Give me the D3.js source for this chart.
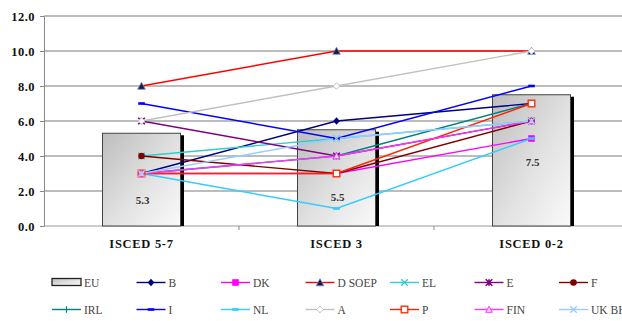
<!DOCTYPE html>
<html><head><meta charset="utf-8">
<script src="https://cdn.jsdelivr.net/npm/d3@7"></script>
<style>
html,body{margin:0;padding:0;background:#fff;}
svg{display:block;}
</style></head>
<body>
<svg id="chart" width="622" height="321"></svg>
<script>
const categories = ["ISCED 5-7", "ISCED 3", "ISCED 0-2"];
const euValues = [5.3, 5.5, 7.5];
const yTicks = [0, 2, 4, 6, 8, 10, 12];

const seriesNames = ["B", "DK", "D SOEP", "EL", "E", "F", "IRL", "I", "NL", "A", "P", "FIN", "UK BHPS"];
const valB     = [3, 6, 7];
const valDK    = [3, 3, 5];
const valDSOEP = [8, 10, 10];
const valEL    = [4, 5, 6];
const valE     = [6, 4, 6];
const valF     = [4, 3, 6];
const valIRL   = [3, 4, 7];
const valI     = [7, 5, 8];
const valNL    = [3, 1, 5];
const valA     = [6, 8, 10];
const valP     = [3, 3, 7];
const valFIN   = [3, 4, 6];
const valUK    = [3, 5, 6];

const seriesValues = [valB, valDK, valDSOEP, valEL, valE, valF, valIRL, valI, valNL, valA, valP, valFIN, valUK];
const seriesColors = ["#000080", "#ff00ff", "#ff0000", "#33cccc", "#800080", "#800000", "#008080", "#0000ff", "#33ccff", "#c0c0c0", "#ff2200", "#ff33ff", "#99ccff"];
const seriesMarkers = ["diamond", "square", "triangle", "x", "star", "circle", "plus", "dash", "dash", "diamondOpen", "squareOpen", "triangleOpen", "x"];

const FONT = "'Liberation Serif', 'Times New Roman', serif";
const svg = d3.select("#chart");
const mLeft = 44, mRight = 629, mTop = 16, mBottom = 226;
const x = d3.scaleBand().domain(categories).range([mLeft, mRight]).padding(0);
const y = d3.scaleLinear().domain([0, 12]).range([mBottom, mTop]);
const cx = c => x(c) + x.bandwidth() / 2;

const defs = svg.append("defs");
const grad = defs.append("linearGradient").attr("id", "barGrad")
  .attr("x1", "0%").attr("y1", "0%").attr("x2", "100%").attr("y2", "100%");
grad.append("stop").attr("offset", "0%").attr("stop-color", "#bdbdbd");
grad.append("stop").attr("offset", "55%").attr("stop-color", "#e2e2e2");
grad.append("stop").attr("offset", "100%").attr("stop-color", "#fafafa");

// gridlines
svg.append("g").selectAll("line").data(yTicks.filter(d => d > 0)).join("line")
  .attr("x1", mLeft).attr("x2", 622)
  .attr("y1", d => y(d)).attr("y2", d => y(d))
  .attr("stroke", "#a6a6a6").attr("stroke-width", 1.5);

// y axis
const yAxis = svg.append("g").attr("transform", `translate(${mLeft},0)`)
  .call(d3.axisLeft(y).tickValues(yTicks).tickFormat(d3.format(".1f")).tickSize(4).tickPadding(5));
yAxis.select(".domain").attr("stroke", "#888");
yAxis.selectAll(".tick line").attr("stroke", "#888");
yAxis.selectAll("text").attr("font-size", 12.5).attr("font-weight", "bold").attr("fill", "#111")
  .attr("letter-spacing", "0.5")
  .style("font-family", FONT);

// x axis
svg.append("line").attr("x1", mLeft).attr("x2", 622).attr("y1", mBottom).attr("y2", mBottom)
  .attr("stroke", "#999").attr("stroke-width", 1.2);
svg.append("g").selectAll("line").data(categories.slice(1)).join("line")
  .attr("x1", d => x(d)).attr("x2", d => x(d)).attr("y1", mBottom).attr("y2", mBottom + 4)
  .attr("stroke", "#888");
svg.append("g").selectAll("text").data(categories).join("text")
  .attr("x", d => cx(d)).attr("y", 248).attr("text-anchor", "middle")
  .attr("font-size", 12.5).attr("font-weight", "bold").attr("fill", "#111")
  .attr("letter-spacing", "0.7")
  .style("font-family", FONT)
  .text(d => d);

// bars
const bw = x.bandwidth() * 0.4;
const bars = svg.append("g");
bars.selectAll("rect.shadow").data(euValues).join("rect").attr("class", "shadow")
  .attr("x", (d, i) => cx(categories[i]) + bw / 2 - 0.5)
  .attr("y", d => y(d) + 2).attr("width", 4).attr("height", d => mBottom - y(d) - 2)
  .attr("fill", "#000");
bars.selectAll("rect.bar").data(euValues).join("rect").attr("class", "bar")
  .attr("x", (d, i) => cx(categories[i]) - bw / 2)
  .attr("y", d => y(d)).attr("width", bw).attr("height", d => mBottom - y(d))
  .attr("fill", "url(#barGrad)").attr("stroke", "#444").attr("stroke-width", 1);
bars.selectAll("text").data(euValues).join("text")
  .attr("x", (d, i) => cx(categories[i]) + 1).attr("y", d => y(d) + 71)
  .attr("text-anchor", "middle").attr("font-size", 11).attr("font-weight", "bold").attr("fill", "#333")
  .style("font-family", FONT)
  .text(d => d.toFixed(1));

// marker drawing
function drawMarker(g, type, color, px, py, s) {
  s = s || 1;
  const h = 3.3 * s;
  switch (type) {
    case "diamond":
      g.append("path").attr("d", `M${px},${py - h - 0.5}L${px + h},${py}L${px},${py + h + 0.5}L${px - h},${py}Z`).attr("fill", color);
      break;
    case "diamondOpen":
      g.append("path").attr("d", `M${px},${py - h}L${px + h},${py}L${px},${py + h}L${px - h},${py}Z`).attr("fill", "#fff").attr("stroke", color).attr("stroke-width", 1);
      break;
    case "square":
      g.append("rect").attr("x", px - h).attr("y", py - h).attr("width", 2 * h).attr("height", 2 * h).attr("fill", color);
      break;
    case "squareOpen":
      g.append("rect").attr("x", px - h).attr("y", py - h).attr("width", 2 * h).attr("height", 2 * h).attr("fill", "#fff").attr("stroke", color).attr("stroke-width", 1.3);
      break;
    case "triangle":
      g.append("path").attr("d", `M${px},${py - h - 0.5}L${px + h + 0.5},${py + h}L${px - h - 0.5},${py + h}Z`).attr("fill", "#1a1a3a").attr("stroke", "#6688dd").attr("stroke-width", 0.8);
      break;
    case "triangleOpen":
      g.append("path").attr("d", `M${px},${py - h}L${px + h},${py + h - 0.5}L${px - h},${py + h - 0.5}Z`).attr("fill", "#f6d8f6").attr("stroke", color).attr("stroke-width", 1);
      break;
    case "circle":
      g.append("circle").attr("cx", px).attr("cy", py).attr("r", h).attr("fill", color);
      break;
    case "x":
      g.append("path").attr("d", `M${px - h},${py - h}L${px + h},${py + h}M${px - h},${py + h}L${px + h},${py - h}`).attr("stroke", color).attr("stroke-width", 1.3);
      break;
    case "star":
      g.append("path").attr("d", `M${px - h},${py - h}L${px + h},${py + h}M${px - h},${py + h}L${px + h},${py - h}M${px},${py - h}L${px},${py + h}`).attr("stroke", color).attr("stroke-width", 1.6);
      break;
    case "plus":
      g.append("path").attr("d", `M${px - h},${py}L${px + h},${py}M${px},${py - h}L${px},${py + h}`).attr("stroke", color).attr("stroke-width", 1.2);
      break;
    case "dash":
      g.append("rect").attr("x", px - h).attr("y", py - 1.3).attr("width", 2 * h).attr("height", 2.6).attr("fill", color);
      break;
  }
}

// series lines
const lineGen = d3.line().x((d, i) => cx(categories[i])).y(d => y(d));
const lines = svg.append("g");
seriesValues.forEach((vals, si) => {
  lines.append("path").datum(vals).attr("d", lineGen)
    .attr("fill", "none").attr("stroke", seriesColors[si]).attr("stroke-width", 1.4);
});
const marks = svg.append("g");
seriesValues.forEach((vals, si) => {
  vals.forEach((v, i) => drawMarker(marks, seriesMarkers[si], seriesColors[si], cx(categories[i]), y(v)));
});

// legend
const legendItems = ["EU"].concat(seriesNames);
const leg = svg.append("g");
legendItems.forEach((name, k) => {
  const col = k % 7, row = Math.floor(k / 7);
  const lx = 52 + col * 84.5, ly = 282.5 + row * 27;
  if (k === 0) {
    leg.append("rect").attr("x", lx).attr("y", ly - 4).attr("width", 29).attr("height", 7)
      .attr("fill", "url(#barGrad)").attr("stroke", "#222").attr("stroke-width", 1.3);
  } else {
    const si = k - 1;
    leg.append("line").attr("x1", lx).attr("x2", lx + 29).attr("y1", ly).attr("y2", ly)
      .attr("stroke", seriesColors[si]).attr("stroke-width", 1.4);
    drawMarker(leg, seriesMarkers[si], seriesColors[si], lx + 14.5, ly, 1);
  }
  leg.append("text").attr("x", lx + 32).attr("y", ly + 4).attr("font-size", 11.5).attr("fill", "#444")
    .style("font-family", FONT)
    .text(name);
});
</script>
</body></html>
